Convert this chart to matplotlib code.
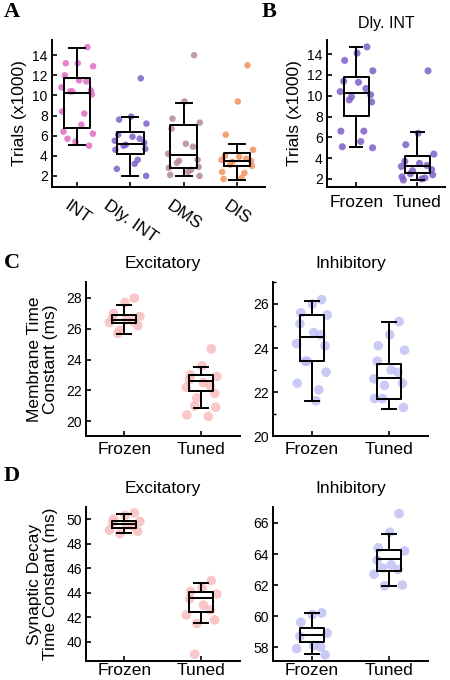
# box plots of trials and fitted time constants, panels A-D

import matplotlib
matplotlib.use("Agg")
import matplotlib.pyplot as plt
from matplotlib.ticker import MultipleLocator
import numpy as np

plt.rcParams['font.family'] = ['Liberation Sans', 'DejaVu Sans']

# panel A: trials (x1000) per task
tasks = ['INT', 'Dly. INT', 'DMS', 'DIS']
task_colors = ['#e06cc4', '#7d60c8', '#b28a9c', '#f3915e']
int_pts = [14.8, 13.2, 13.2, 12.9, 12.0, 11.5, 11.4, 10.8, 10.5, 10.4, 10.4, 10.1,
           8.4, 8.2, 7.1, 6.4, 6.2, 5.7, 5.4, 5.0]
dly_pts = [11.7, 7.9, 7.6, 7.2, 6.1, 5.9, 5.7, 5.5, 5.3, 5.1, 5.0, 4.7, 4.6,
           3.6, 3.2, 2.7, 2.0]
dms_pts = [14.0, 9.4, 7.7, 7.3, 6.7, 5.2, 4.9, 4.2, 3.6, 3.5, 3.3, 2.9, 2.8,
           2.6, 2.4, 2.1, 2.0]
dis_pts = [13.0, 9.4, 6.1, 4.6, 4.0, 3.9, 3.7, 3.6, 3.5, 3.4, 3.1, 3.0, 2.4,
           2.3, 1.8, 1.7]
# q1, median, q3, lower whisker, upper whisker
task_stats = [
    [6.8, 10.2, 11.75, 5.05, 14.75],
    [4.15, 5.2, 6.4, 2.0, 7.9],
    [2.8, 4.05, 7.1, 2.0, 9.2],
    [3.0, 3.5, 4.25, 1.6, 5.2],
]

# panel B: Dly. INT, frozen vs tuned
groups = ['Frozen', 'Tuned']
b_frozen = [14.7, 14.1, 13.4, 12.4, 11.4, 11.3, 10.7, 10.4, 10.1, 9.9, 9.6, 9.4,
            6.6, 6.6, 5.6, 5.1, 5.0]
b_tuned = [12.4, 6.4, 5.3, 4.4, 3.7, 3.5, 3.3, 3.2, 2.9, 2.8, 2.5, 2.4, 2.2,
           2.1, 2.0, 1.9]
b_stats = [[8.05, 10.3, 11.8, 5.05, 14.7], [2.6, 3.25, 4.2, 1.9, 6.5]]

# panel C: membrane time constant (ms)
c_exc_frozen = [28.0, 27.7, 27.0, 26.8, 26.7, 26.6, 26.5, 26.4, 26.2, 25.9, 25.7]
c_exc_tuned = [24.7, 23.6, 23.0, 22.9, 22.7, 22.5, 22.3, 22.2, 21.8, 21.5,
               21.0, 20.9, 20.4, 20.3]
c_exc_stats = [[26.35, 26.6, 26.9, 25.65, 27.55], [21.95, 22.6, 23.0, 20.85, 23.5]]
c_inh_frozen = [26.2, 26.0, 25.6, 25.5, 25.1, 24.7, 24.6, 24.2, 24.1, 23.4, 23.4,
                22.9, 22.4, 22.1, 21.6]
c_inh_tuned = [25.2, 24.6, 24.1, 23.9, 23.4, 23.0, 22.9, 22.6, 22.4, 22.3, 21.7,
               21.3, 21.7]
c_inh_stats = [[23.4, 24.5, 25.5, 21.6, 26.15], [21.7, 22.65, 23.27, 21.25, 25.2]]

# panel D: synaptic decay time constant (ms)
d_exc_frozen = [50.5, 50.3, 50.0, 49.8, 49.7, 49.5, 49.4, 49.1, 49.0, 48.8]
d_exc_tuned = [45.0, 44.4, 44.1, 43.9, 43.5, 43.0, 42.6, 42.2, 41.8, 41.5, 39.0]
d_exc_stats = [[49.3, 49.57, 49.84, 48.9, 50.38], [42.45, 43.6, 44.05, 41.55, 44.8]]
d_inh_frozen = [60.2, 60.1, 59.6, 58.9, 58.7, 58.1, 58.0, 57.9, 57.5]
d_inh_tuned = [66.6, 65.4, 64.4, 64.2, 63.6, 63.3, 63.0, 62.7, 62.0, 61.95, 63.1]
d_inh_stats = [[58.3, 58.77, 59.2, 57.55, 60.17], [62.9, 63.66, 64.26, 61.95, 65.27]]

exc_color = '#f7b5b5'
inh_color = '#b9b9f3'


def jitter(n, width):
    # deterministic spread so the dots do not sit on one line
    k = np.arange(n)
    return width * np.sin(k * 2.399 + 0.7)


def style_axes(ax, xpad=6):
    for side in ['top', 'right']:
        ax.spines[side].set_visible(False)
    for side in ['left', 'bottom']:
        ax.spines[side].set_linewidth(1.4)
    ax.tick_params(direction='in', length=3.5, width=1.2, labelsize=10, pad=3)
    ax.tick_params(axis='x', labelsize=12.5, pad=xpad)
    ax.tick_params(which='minor', direction='in', length=2.5, width=1.0)


def draw_boxes(ax, stats, width, cap):
    items = []
    for q1, med, q3, lo, hi in stats:
        items.append({'q1': q1, 'med': med, 'q3': q3, 'whislo': lo, 'whishi': hi,
                      'fliers': []})
    pos = np.arange(1, len(stats) + 1)
    lw = 1.4
    ax.bxp(items, positions=pos, widths=width, showfliers=False,
           capwidths=cap, manage_ticks=False,
           boxprops=dict(color='black', linewidth=lw),
           whiskerprops=dict(color='black', linewidth=lw),
           capprops=dict(color='black', linewidth=lw),
           medianprops=dict(color='black', linewidth=lw))


def draw_dots(ax, series, colors, spread, size, alpha):
    for i, (vals, col) in enumerate(zip(series, colors)):
        x = i + 1 + jitter(len(vals), spread)
        ax.scatter(x, vals, s=size, color=col, alpha=alpha, edgecolors='none', zorder=1)


fig = plt.figure(figsize=(4.5, 6.8), dpi=100)

# A
axA = fig.add_axes([0.1156, 0.725, 0.473, 0.216])
draw_dots(axA, [int_pts, dly_pts, dms_pts, dis_pts], task_colors, 0.3, 22, 0.85)
draw_boxes(axA, task_stats, 0.5, 0.3)
axA.set_xlim(0.53, 4.52)
axA.set_ylim(0.9, 15.5)
axA.set_yticks([2, 4, 6, 8, 10, 12, 14])
axA.set_xticks([1, 2, 3, 4])
axA.set_xticklabels(tasks, rotation=-35, ha='center')
axA.set_ylabel('Trials (x1000)', fontsize=12.5, labelpad=4)
style_axes(axA, xpad=8)

# B
axB = fig.add_axes([0.7267, 0.725, 0.262, 0.216])
draw_dots(axB, [b_frozen, b_tuned], [task_colors[1]] * 2, 0.27, 26, 0.85)
draw_boxes(axB, b_stats, 0.4, 0.2)
axB.set_xlim(0.52, 2.45)
axB.set_ylim(1.23, 15.35)
axB.set_yticks([2, 4, 6, 8, 10, 12, 14])
axB.set_xticks([1, 2])
axB.set_xticklabels(groups)
axB.set_ylabel('Trials (x1000)', fontsize=12.5, labelpad=4)
axB.set_title('Dly. INT', fontsize=11.5, pad=9)
style_axes(axB)

panels = [
    ([0.191, 0.3588, 0.342, 0.2265], [c_exc_frozen, c_exc_tuned], c_exc_stats,
     exc_color, (19.03, 29.04), [20, 22, 24, 26, 28], None, 'Excitatory',
     'Membrane Time\nConstant (ms)', 4.5),
    ([0.6067, 0.3588, 0.344, 0.2265], [c_inh_frozen, c_inh_tuned], c_inh_stats,
     inh_color, (20, 27), [20, 22, 24, 26], 1, 'Inhibitory', None, 4.5),
    ([0.191, 0.0279, 0.342, 0.2265], [d_exc_frozen, d_exc_tuned], d_exc_stats,
     exc_color, (38.45, 50.98), [40, 42, 44, 46, 48, 50], None, 'Excitatory',
     'Synaptic Decay\nTime Constant (ms)', 1.5),
    ([0.6067, 0.0279, 0.344, 0.2265], [d_inh_frozen, d_inh_tuned], d_inh_stats,
     inh_color, (57.1, 67.03), [58, 60, 62, 64, 66], None, 'Inhibitory', None, 1.5),
]

for rect, series, stats, col, ylim, yt, minor, title, ylabel, xpad in panels:
    ax = fig.add_axes(rect)
    draw_dots(ax, series, [col, col], 0.2, 48, 0.75)
    draw_boxes(ax, stats, 0.31, 0.18)
    ax.set_xlim(0.5, 2.5)
    ax.set_ylim(*ylim)
    ax.set_yticks(yt)
    if minor:
        ax.yaxis.set_minor_locator(MultipleLocator(minor))
    ax.set_xticks([1, 2])
    ax.set_xticklabels(groups)
    ax.set_title(title, fontsize=12.5, pad=10)
    if ylabel:
        ax.set_ylabel(ylabel, fontsize=12.5, labelpad=6, linespacing=1.05)
    style_axes(ax, xpad=xpad)

# panel letters
letter_font = dict(family=['Liberation Serif', 'DejaVu Serif'], fontweight='bold',
                   fontsize=16, va='center', ha='left')
fig.text(0.008, 0.982, 'A', **letter_font)
fig.text(0.582, 0.982, 'B', **letter_font)
fig.text(0.008, 0.613, 'C', **letter_font)
fig.text(0.008, 0.3, 'D', **letter_font)

fig.savefig('out.png', dpi=100)
